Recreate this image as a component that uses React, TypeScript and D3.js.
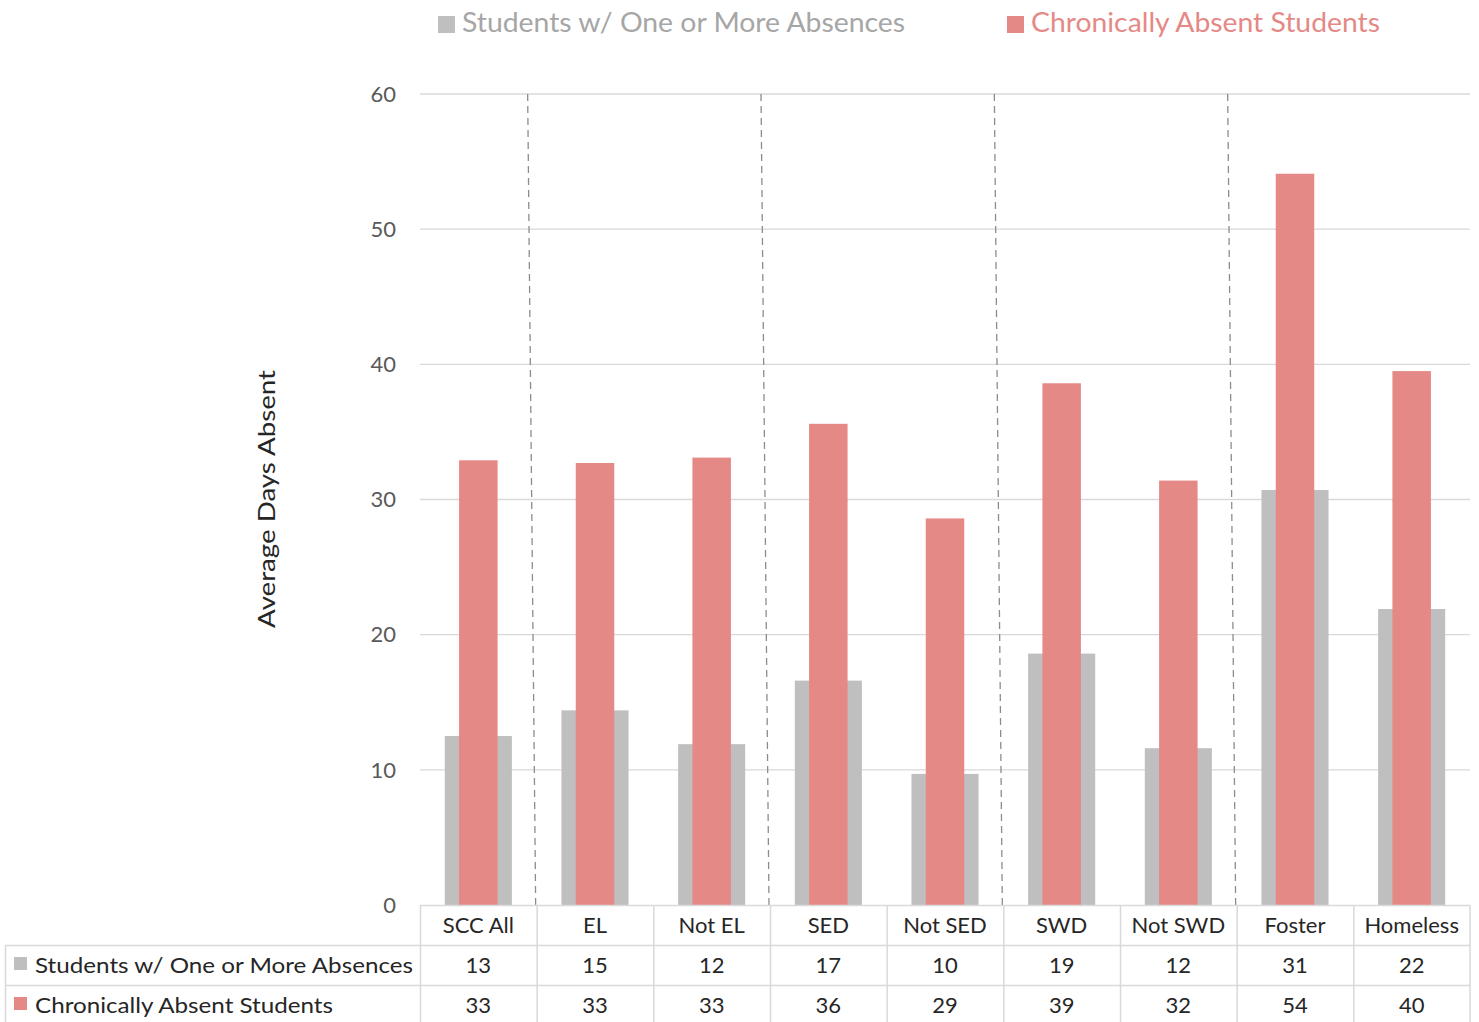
import React from "react";
import * as d3 from "d3";

const categories = ["SCC All", "EL", "Not EL", "SED", "Not SED", "SWD", "Not SWD", "Foster", "Homeless"];
const oneOrMore = [12.5, 14.4, 11.9, 16.6, 9.7, 18.6, 11.6, 30.7, 21.9];
const chronic = [32.9, 32.7, 33.1, 35.6, 28.6, 38.6, 31.4, 54.1, 39.5];
const oneOrMoreLabels = ["13", "15", "12", "17", "10", "19", "12", "31", "22"];
const chronicLabels = ["33", "33", "33", "36", "29", "39", "32", "54", "40"];
const yTicks = [0, 10, 20, 30, 40, 50, 60];
const dividerAfter = ["SCC All", "Not EL", "Not SED", "Not SWD"];
const seriesNames = ["Students w/ One or More Absences", "Chronically Absent Students"];

const W = 1479;
const H = 1022;
const GRAY = "#bfbfbf";
const RED = "#e58987";
const GRID = "#d9d9d9";
const FONT = "Lato, 'Noto Sans', sans-serif";

export default function App() {
  const x = d3.scaleBand<string>().domain(categories).range([420, 1470]);
  const y = d3.scaleLinear().domain([0, 60]).range([905, 94]);
  const bw = x.bandwidth();
  const grayW = bw * 0.575;
  const redW = bw * 0.33;
  const rowH = [925, 965, 1005];

  return (
    <svg width={W} height={H} style={{ position: "absolute", left: 0, top: 0, background: "#fff" }} fontFamily={FONT}>
      {/* top legend */}
      <rect x={438} y={16} width={17} height={17} fill={GRAY} />
      <text x={462} y={32} fontSize={26} fill="#a6a6a6" textLength={443} lengthAdjust="spacingAndGlyphs">{seriesNames[0]}</text>
      <rect x={1007} y={16} width={17} height={17} fill={RED} />
      <text x={1031} y={32} fontSize={26} fill={RED} textLength={349} lengthAdjust="spacingAndGlyphs">{seriesNames[1]}</text>

      {/* gridlines and y ticks */}
      {yTicks.map((t) => (
        <g key={t}>
          {t > 0 && <line x1={420} x2={1470} y1={y(t)} y2={y(t)} stroke={GRID} strokeWidth={1.3} />}
          <text x={396} y={y(t)} dy="0.35em" fontSize={22} fill="#595959" textAnchor="end">{t}</text>
        </g>
      ))}

      {/* y axis title */}
      <text transform={`translate(275,499) rotate(-90)`} fontSize={24} fill="#262626" textAnchor="middle" textLength={258} lengthAdjust="spacingAndGlyphs">Average Days Absent</text>

      {/* bars */}
      {categories.map((c, i) => {
        const cx = (x(c) as number) + bw / 2;
        return (
          <g key={c}>
            <rect x={cx - grayW / 2} y={y(oneOrMore[i])} width={grayW} height={y(0) - y(oneOrMore[i])} fill={GRAY} />
            <rect x={cx - redW / 2} y={y(chronic[i])} width={redW} height={y(0) - y(chronic[i])} fill={RED} />
          </g>
        );
      })}

      {/* dashed dividers */}
      {dividerAfter.map((c) => {
        const b = (x(c) as number) + bw;
        return <line key={c} x1={b - 9} y1={y(60)} x2={b - 1} y2={y(0)} stroke="#8c8c8c" strokeWidth={1.3} strokeDasharray="7,5" />;
      })}

      {/* table */}
      <line x1={420} x2={1470} y1={905.5} y2={905.5} stroke={GRID} strokeWidth={1.5} />
      <line x1={5} x2={1470} y1={945.5} y2={945.5} stroke={GRID} strokeWidth={1.5} />
      <line x1={5} x2={1470} y1={985.5} y2={985.5} stroke={GRID} strokeWidth={1.5} />
      <line x1={5.5} x2={5.5} y1={945} y2={H} stroke={GRID} strokeWidth={1.5} />
      {categories.map((c) => (
        <line key={"v" + c} x1={(x(c) as number) + 0.5} x2={(x(c) as number) + 0.5} y1={905} y2={H} stroke={GRID} strokeWidth={1.5} />
      ))}
      <line x1={1470} x2={1470} y1={905} y2={H} stroke={GRID} strokeWidth={1.5} />

      {categories.map((c, i) => {
        const cx = (x(c) as number) + bw / 2;
        return (
          <g key={"t" + c} fontSize={22} fill="#262626" textAnchor="middle">
            <text x={cx} y={rowH[0]} dy="0.35em">{c}</text>
            <text x={cx} y={rowH[1]} dy="0.35em">{oneOrMoreLabels[i]}</text>
            <text x={cx} y={rowH[2]} dy="0.35em">{chronicLabels[i]}</text>
          </g>
        );
      })}

      <rect x={14} y={957} width={13} height={13} fill={GRAY} />
      <text x={35} y={rowH[1]} dy="0.35em" fontSize={22} fill="#262626" textLength={378} lengthAdjust="spacingAndGlyphs">{seriesNames[0]}</text>
      <rect x={14} y={997} width={13} height={13} fill={RED} />
      <text x={35} y={rowH[2]} dy="0.35em" fontSize={22} fill="#262626" textLength={298} lengthAdjust="spacingAndGlyphs">{seriesNames[1]}</text>
    </svg>
  );
}
